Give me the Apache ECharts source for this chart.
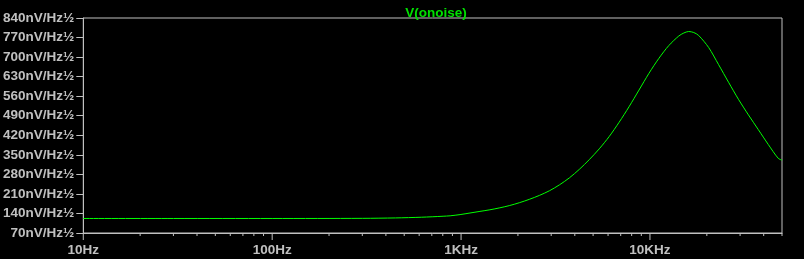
<!DOCTYPE html>
<html>
<head>
<meta charset="utf-8">
<script src="https://cdn.jsdelivr.net/npm/echarts@6/dist/echarts.min.js"></script>
<style>
html,body{margin:0;padding:0;background:#000;}
#c{width:804px;height:259px;}
</style>
</head>
<body>
<div id="c"></div>
<script>
// Frequencies (Hz) and noise values (nV/Hz½)
var freqs = [10, 30, 100, 300, 450, 616, 803, 875, 988, 1115, 1259, 1421, 1604, 1811, 2045, 2308, 2606, 2941, 3320, 3748, 4230, 4775, 5390, 6085, 6870, 7750, 8750, 9880, 11150, 12590, 14210, 15110, 16030, 17060, 18110, 20450, 23080, 26060, 29400, 33200, 37480, 42300, 47750, 50000];
var noise = [122, 122, 122, 122.5, 124, 126.5, 130, 131.6, 135.9, 141.6, 147.4, 153.1, 160.2, 168.5, 178.9, 191, 205, 221.5, 242.6, 267.7, 298.1, 332.9, 371.5, 415.6, 466.8, 522.3, 582, 642, 695.6, 741.5, 775.5, 786.3, 791.6, 788, 777.3, 734.3, 673, 610, 549, 493, 440, 387, 337.5, 331];
var seriesName = 'V(onoise)';
var xMajorTicks = [10, 100, 1000, 10000];
var xMajorLabels = ['10Hz', '100Hz', '1KHz', '10KHz'];
var xMinorMultipliers = [2, 3, 4, 5, 6, 7, 8, 9];
var yMin = 70, yMax = 840, yStep = 70;
var yUnit = 'nV/Hz½';
var xMin = 10, xMax = 50000;

var minorTicks = [];
xMajorTicks.forEach(function (d) {
  xMinorMultipliers.forEach(function (m) {
    if (d * m <= xMax) minorTicks.push([d * m, 0]);
  });
});
var majorTicks = xMajorTicks.map(function (d) { return [d, 1]; });
var tickData = majorTicks.concat(minorTicks);

var gray = '#c0c0c0';
var font = 'Liberation Sans';
var fs = 13.5;
var chart = echarts.init(document.getElementById('c'));
chart.setOption({
  backgroundColor: '#000',
  animation: false,
  title: {
    text: seriesName,
    left: 431, textAlign: 'center', top: 1,
    textStyle: { color: '#00e000', fontSize: fs, fontWeight: 'bold', fontFamily: font }
  },
  grid: {
    left: 81, top: 18, right: 22, bottom: 26,
    show: true, borderColor: gray, borderWidth: 1, backgroundColor: '#000'
  },
  xAxis: {
    type: 'log', logBase: 10, min: xMin, max: xMax,
    axisLine: { lineStyle: { color: gray, width: 1 } },
    axisTick: { show: false },
    splitLine: { show: false },
    axisLabel: {
      color: gray, fontSize: fs, fontWeight: 'bold', fontFamily: font, margin: 10,
      formatter: function (v) {
        var i = xMajorTicks.indexOf(Math.round(v));
        return i >= 0 ? xMajorLabels[i] : '';
      }
    }
  },
  yAxis: {
    type: 'value', min: yMin, max: yMax, interval: yStep,
    axisLine: { show: true, lineStyle: { color: gray, width: 1 } },
    axisTick: { show: true, length: 7, lineStyle: { color: gray } },
    splitLine: { show: false },
    axisLabel: {
      color: gray, fontSize: fs, fontWeight: 'bold', fontFamily: font, margin: 9,
      formatter: function (v) { return v + yUnit; }
    }
  },
  series: [
    {
      name: seriesName,
      type: 'line',
      data: freqs.map(function (f, i) { return [f, noise[i]]; }),
      smooth: 0.3,
      showSymbol: false,
      lineStyle: { color: '#00ff00', width: 1 },
      z: 3
    },
    {
      type: 'custom',
      clip: false,
      silent: true,
      data: tickData,
      renderItem: function (params, api) {
        var p = api.coord([api.value(0), yMin]);
        var len = api.value(1) ? 7 : 3;
        return {
          type: 'line',
          shape: { x1: p[0], y1: p[1], x2: p[0], y2: p[1] + len },
          style: { stroke: gray, lineWidth: 1 }
        };
      },
      z: 4
    }
  ]
});
</script>
</body>
</html>
